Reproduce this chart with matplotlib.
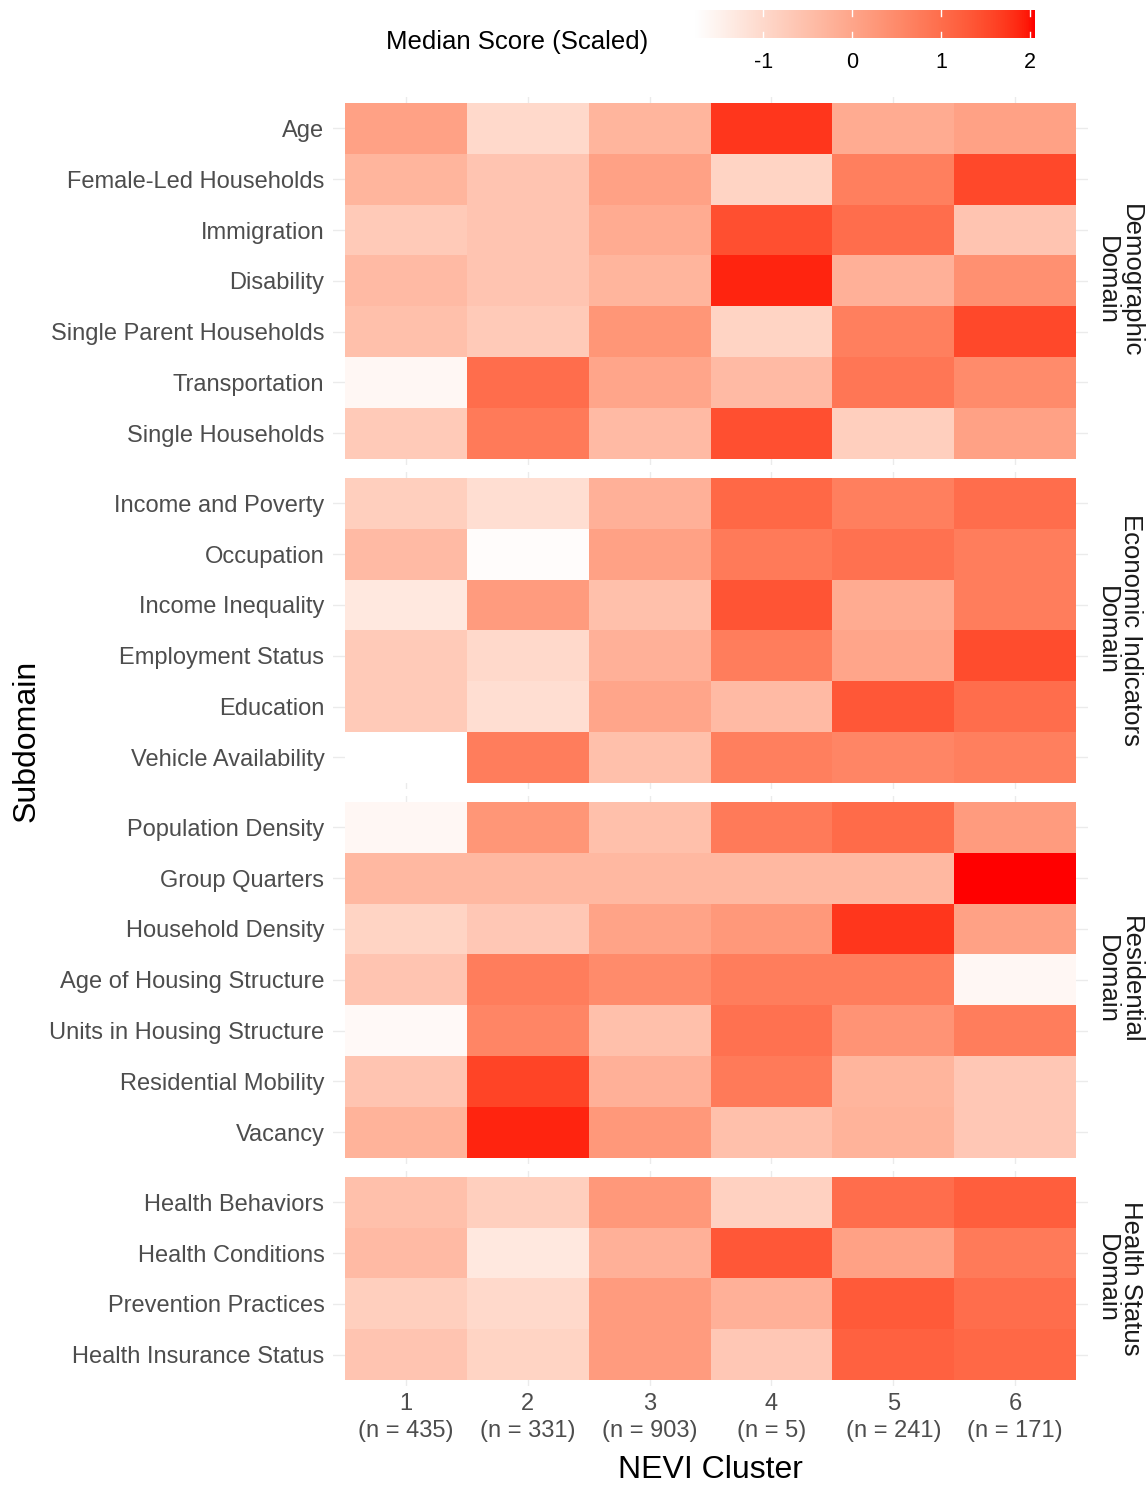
import numpy as np
import matplotlib
matplotlib.use("Agg")
import matplotlib.pyplot as plt
from matplotlib.colors import ListedColormap, Normalize

plt.rcParams['font.family'] = ['Liberation Sans', 'DejaVu Sans']

clusters = ["1\n(n = 435)", "2\n(n = 331)", "3\n(n = 903)", "4\n(n = 5)", "5\n(n = 241)", "6\n(n = 171)"]

demo_labels = ["Age", "Female-Led Households", "Immigration", "Disability",
               "Single Parent Households", "Transportation", "Single Households"]
demo_values = [
    [0.1, -1.0, -0.3, 1.75, -0.1, 0.1],
    [-0.3, -0.6, 0.1, -0.9, 0.7, 1.55],
    [-0.7, -0.6, -0.1, 1.45, 1.0, -0.6],
    [-0.4, -0.6, -0.3, 1.9, -0.2, 0.4],
    [-0.5, -0.7, 0.3, -0.9, 0.7, 1.55],
    [-1.6, 1.0, 0.0, -0.4, 0.85, 0.5],
    [-0.7, 0.8, -0.4, 1.45, -0.8, 0.1],
]

econ_labels = ["Income and Poverty", "Occupation", "Income Inequality",
               "Employment Status", "Education", "Vehicle Availability"]
econ_values = [
    [-0.8, -1.1, -0.2, 1.1, 0.7, 1.0],
    [-0.4, -1.7, 0.1, 0.8, 0.95, 0.75],
    [-1.3, 0.2, -0.5, 1.4, -0.1, 0.75],
    [-0.7, -1.0, -0.2, 0.75, 0.0, 1.5],
    [-0.7, -1.1, 0.0, -0.4, 1.35, 1.0],
    [-1.77, 0.75, -0.5, 0.7, 0.6, 0.7],
]

resid_labels = ["Population Density", "Group Quarters", "Household Density",
                "Age of Housing Structure", "Units in Housing Structure",
                "Residential Mobility", "Vacancy"]
resid_values = [
    [-1.6, 0.3, -0.5, 0.8, 1.05, 0.2],
    [-0.35, -0.35, -0.35, -0.35, -0.35, 2.06],
    [-0.9, -0.65, 0.05, 0.25, 1.75, 0.1],
    [-0.6, 0.75, 0.5, 0.75, 0.75, -1.6],
    [-1.65, 0.6, -0.5, 0.95, 0.35, 0.75],
    [-0.6, 1.6, -0.2, 0.8, -0.3, -0.65],
    [-0.25, 1.9, 0.25, -0.5, -0.25, -0.65],
]

health_labels = ["Health Behaviors", "Health Conditions", "Prevention Practices",
                 "Health Insurance Status"]
health_values = [
    [-0.5, -0.8, 0.25, -0.85, 1.0, 1.25],
    [-0.4, -1.3, -0.2, 1.35, 0.1, 0.8],
    [-0.8, -1.0, 0.2, -0.2, 1.3, 1.0],
    [-0.6, -0.9, 0.2, -0.65, 1.2, 1.1],
]

domains = ["Demographic\nDomain", "Economic Indicators\nDomain",
           "Residential\nDomain", "Health Status\nDomain"]
colorbar_ticks = [-1, 0, 1, 2]

panels = [(demo_labels, demo_values), (econ_labels, econ_values),
          (resid_labels, resid_values), (health_labels, health_values)]

# ---- Lab-interpolated white -> red colormap (like ggplot scale_fill_gradient)
def srgb_to_lab(rgb):
    rgb = np.asarray(rgb, float)
    lin = np.where(rgb <= 0.04045, rgb / 12.92, ((rgb + 0.055) / 1.055) ** 2.4)
    M = np.array([[0.4124, 0.3576, 0.1805], [0.2126, 0.7152, 0.0722], [0.0193, 0.1192, 0.9505]])
    xyz = M @ lin
    wp = np.array([0.95047, 1.0, 1.08883])
    t = xyz / wp
    f = np.where(t > 0.008856, np.cbrt(t), 7.787 * t + 16 / 116)
    return np.array([116 * f[1] - 16, 500 * (f[0] - f[1]), 200 * (f[1] - f[2])])

def lab_to_srgb(lab):
    L, a, b = lab
    fy = (L + 16) / 116
    fx = fy + a / 500
    fz = fy - b / 200
    f = np.array([fx, fy, fz])
    t = np.where(f ** 3 > 0.008856, f ** 3, (f - 16 / 116) / 7.787)
    wp = np.array([0.95047, 1.0, 1.08883])
    xyz = t * wp
    Minv = np.array([[3.2406, -1.5372, -0.4986], [-0.9689, 1.8758, 0.0415], [0.0557, -0.2040, 1.0570]])
    lin = Minv @ xyz
    lin = np.clip(lin, 0, 1)
    rgb = np.where(lin <= 0.0031308, 12.92 * lin, 1.055 * lin ** (1 / 2.4) - 0.055)
    return np.clip(rgb, 0, 1)

lab_w = srgb_to_lab([1, 1, 1])
lab_r = srgb_to_lab([1, 0, 0])
cols = [lab_to_srgb(lab_w + (lab_r - lab_w) * s) for s in np.linspace(0, 1, 256)]
cmap = ListedColormap(cols)

allvals = np.concatenate([np.ravel(v) for _, v in panels])
norm = Normalize(vmin=allvals.min(), vmax=allvals.max())

W, H = 1147, 1486
fig = plt.figure(figsize=(W / 100, H / 100), dpi=100)

def rect(x0, y0, x1, y1):
    return [x0 / W, 1 - y1 / H, (x1 - x0) / W, (y1 - y0) / H]

row_h = 50.8
gap = 19.3
tile_left, tile_right = 345, 1076
xexp, yexp = 0.1, 0.12
cell_w = (tile_right - tile_left) / 6
grid_c = "#EBEBEB"
label_c = "#4D4D4D"

ytop = 103
for i, ((labels, vals), dom) in enumerate(zip(panels, domains)):
    n = len(labels)
    y0 = ytop
    y1 = ytop + n * row_h
    ax = fig.add_axes(rect(tile_left - xexp * cell_w, y0 - yexp * row_h,
                           tile_right + xexp * cell_w, y1 + yexp * row_h))
    arr = np.array(vals)
    ax.pcolormesh(np.arange(7) - 0.5, np.arange(n + 1) - 0.5, arr, cmap=cmap, norm=norm,
                  zorder=2, edgecolor='none', antialiased=False)
    ax.set_xlim(-0.5 - xexp, 5.5 + xexp)
    ax.set_ylim(n - 0.5 + yexp, -0.5 - yexp)
    ax.set_yticks(range(n))
    ax.set_yticklabels(labels, fontsize=17, color=label_c)
    ax.set_xticks(range(6))
    if i == len(panels) - 1:
        ax.set_xticklabels(clusters, fontsize=17, color=label_c, linespacing=1.27)
    else:
        ax.set_xticklabels([])
    ax.tick_params(length=0)
    ax.tick_params(axis='y', pad=6)
    ax.tick_params(axis='x', pad=5)
    ax.grid(True, color=grid_c, linewidth=1.0, zorder=0)
    ax.set_axisbelow(True)
    for s in ax.spines.values():
        s.set_visible(False)
    yc = (y0 + y1) / 2
    fig.text(1119 / W, 1 - yc / H, dom, rotation=-90, ha='center', va='center',
             fontsize=18.5, color="#1A1A1A", linespacing=1.02, multialignment='center')
    ytop = y1 + gap

fig.text(710 / W, 1 - 1470 / H, "NEVI Cluster", ha='center', va='center', fontsize=23, color='black')
fig.text(27 / W, 1 - 741 / H, "Subdomain", ha='center', va='center', fontsize=23, color='black',
         rotation=90)

# ---- colorbar
cax = fig.add_axes(rect(695, 10, 1035, 38))
grad = np.linspace(norm.vmin, norm.vmax, 400)
cax.imshow(grad[np.newaxis, :], aspect='auto', cmap=cmap, norm=norm,
           extent=[norm.vmin, norm.vmax, 0, 1])
cax.set_xlim(norm.vmin, norm.vmax)
cax.set_ylim(0, 1)
for t in colorbar_ticks:
    cax.plot([t, t], [0, 0.2], color='white', lw=1)
    cax.plot([t, t], [0.8, 1], color='white', lw=1)
cax.set_yticks([])
cax.set_xticks(colorbar_ticks)
cax.set_xticklabels([str(t) for t in colorbar_ticks], fontsize=15.5, color='black')
cax.tick_params(axis='x', length=0, pad=10)
for s in cax.spines.values():
    s.set_visible(False)
fig.text(648 / W, 1 - 42 / H, "Median Score (Scaled)", ha='right', va='center', fontsize=18.5,
         color='black')

fig.savefig("out.png", dpi=100, facecolor='white')
